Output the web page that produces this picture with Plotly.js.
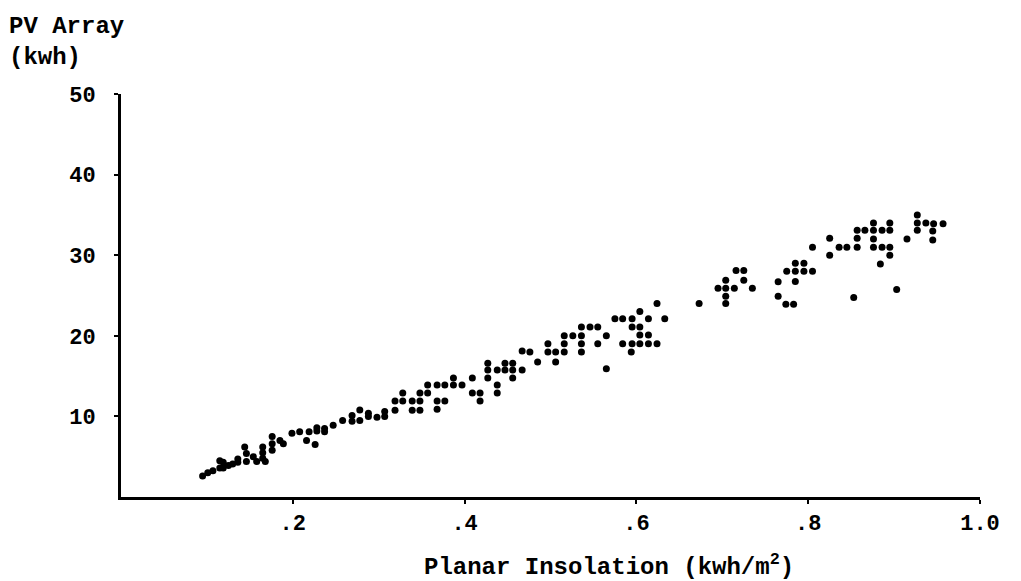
<!DOCTYPE html>
<html>
<head>
<meta charset="utf-8">
<script src="https://cdn.plot.ly/plotly-3.0.1.min.js"></script>
<style>html,body{margin:0;padding:0;background:#fff;}#chart{width:1021px;height:581px;}</style>
</head>
<body>
<div id="chart"></div>
<script>
// Planar insolation (kWh/m^2) for each observation
const insolation = [
  0.095,0.101,0.107,0.115,0.115,0.119,0.119,0.125,0.130,0.136,0.136,0.144,0.146,0.146,0.154,0.158,
  0.165,0.165,0.165,0.168,0.176,0.176,0.176,0.185,0.189,0.199,0.208,0.216,0.219,0.226,0.228,0.228,
  0.237,0.237,0.247,0.258,0.269,0.269,0.278,0.278,0.288,0.288,0.298,0.307,0.307,0.319,0.319,
  0.328,0.328,0.339,0.339,0.348,0.348,0.348,0.357,0.357,0.368,0.368,0.368,0.377,0.377,0.387,0.387,
  0.397,0.409,0.409,0.418,0.418,0.427,0.427,0.427,0.438,0.438,0.438,0.447,0.447,0.456,0.456,0.456,
  0.467,0.467,0.476,0.485,0.497,0.497,0.506,0.506,0.516,0.516,0.516,0.526,0.536,0.536,0.536,0.536,
  0.546,0.555,0.555,0.565,0.565,0.575,0.584,0.584,0.595,0.595,0.595,0.594,0.604,0.604,0.604,0.604,
  0.614,0.614,0.614,0.624,0.624,0.633,
  0.673,0.695,0.704,0.704,0.704,0.704,0.714,0.716,0.725,0.725,0.735,
  0.765,0.765,0.774,0.783,0.775,0.785,0.785,0.785,0.795,0.795,0.805,0.805,
  0.825,0.825,0.836,0.845,0.853,0.857,0.857,0.857,0.866,0.876,0.876,0.876,0.876,0.884,0.886,0.886,
  0.895,0.895,0.895,0.895,0.903,0.915,0.927,0.927,0.927,0.937,0.946,0.945,0.945,0.957
];
// PV array output (kWh) for each observation
const pvArray = [
  2.6,3.0,3.25,3.6,4.5,3.6,4.3,3.9,4.1,4.3,4.7,6.2,4.4,5.4,5.0,4.4,
  4.8,5.5,6.2,4.4,5.8,6.6,7.5,7.0,6.6,7.9,8.1,7.0,8.1,6.5,8.2,8.6,
  8.5,8.1,8.9,9.5,9.4,10.1,9.5,10.8,10.4,10.0,9.9,10.0,10.6,11.9,10.75,
  11.9,12.9,11.9,10.75,12.9,11.9,10.75,13.9,12.9,13.9,11.9,10.9,13.9,11.9,14.75,13.9,
  13.9,14.75,12.9,12.9,11.9,16.6,15.75,14.75,15.75,13.9,12.9,16.6,15.75,16.6,15.75,14.75,
  18.1,15.75,18.0,16.75,19.0,18.0,18.0,16.75,20.0,19.0,18.0,20.0,21.1,20.0,19.0,18.0,
  21.1,21.1,19.0,20.0,15.9,22.1,22.1,19.0,22.1,21.1,19.0,18.0,23.0,21.1,20.1,19.0,
  22.1,20.1,19.0,24.0,19.0,22.1,
  24.0,25.9,26.9,25.9,24.9,24.0,25.9,28.1,28.1,26.9,25.9,
  26.7,24.9,23.9,23.9,28.0,29.0,28.0,26.75,29.0,28.0,28.0,31.0,
  32.1,30.0,31.0,31.0,24.75,33.1,32.1,31.0,33.1,34.0,33.1,32.0,31.0,28.9,33.1,31.0,
  34.0,33.1,31.0,30.0,25.75,32.0,35.0,34.0,33.1,34.0,33.9,33.0,31.9,33.9
];
// Axis tick values and labels
const xTickVals = [0.2, 0.4, 0.6, 0.8, 1.0];
const xTickText = ['.2', '.4', '.6', '.8', '1.0'];
const yTickVals = [10, 20, 30, 40, 50];
const yTickText = ['10', '20', '30', '40', '50'];

const FONT = 'Liberation Mono, Courier New, monospace';

const trace = {
  type: 'scatter',
  mode: 'markers',
  x: insolation,
  y: pvArray,
  marker: {color: '#000', size: 7},
  hoverinfo: 'x+y',
  showlegend: false
};

const layout = {
  width: 1021,
  height: 581,
  paper_bgcolor: '#fff',
  plot_bgcolor: '#fff',
  margin: {l: 121, r: 41, t: 94, b: 84},
  font: {family: FONT, color: '#000', size: 21, weight: 'bold'},
  xaxis: {
    range: [0, 1],
    showgrid: false, zeroline: false,
    showline: true, linecolor: '#000', linewidth: 3,
    ticks: 'outside', ticklen: 4, tickwidth: 2, tickcolor: '#000',
    tickvals: xTickVals, ticktext: xTickText,
    tickfont: {family: FONT, size: 22, color: '#000', weight: 'bold'},
    ticklabelstandoff: 0
  },
  yaxis: {
    range: [0, 50],
    showgrid: false, zeroline: false,
    showline: true, linecolor: '#000', linewidth: 3,
    ticks: 'outside', ticklen: 4, tickwidth: 2, tickcolor: '#000',
    tickvals: yTickVals, ticktext: yTickText,
    tickfont: {family: FONT, size: 22, color: '#000', weight: 'bold'},
    ticklabelstandoff: 14
  },
  annotations: [
    {
      text: 'PV Array<br>(kwh)',
      xref: 'paper', yref: 'paper',
      x: -0.133, y: 1.205,
      xanchor: 'left', yanchor: 'top', align: 'left',
      showarrow: false,
      font: {family: FONT, size: 24, color: '#000', weight: 'bold'}
    },
    {
      text: 'Planar Insolation (kwh/m<sup>2</sup>)',
      xref: 'paper', yref: 'paper',
      x: 0.568, y: -0.17,
      xanchor: 'center', yanchor: 'middle',
      showarrow: false,
      font: {family: FONT, size: 24, color: '#000', weight: 'bold'}
    }
  ]
};

Plotly.newPlot('chart', [trace], layout, {displayModeBar: false, staticPlot: true});
</script>
</body>
</html>
